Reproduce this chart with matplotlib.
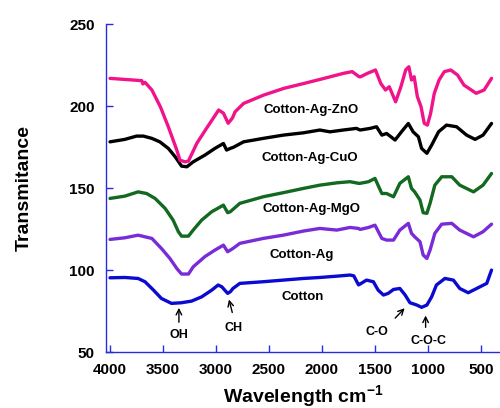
import matplotlib
matplotlib.use("Agg")
import matplotlib.pyplot as plt

plt.rcParams['font.family'] = ['Liberation Sans', 'DejaVu Sans']
plt.rcParams['font.weight'] = 'bold'
plt.rcParams['mathtext.fontset'] = 'custom'
plt.rcParams['mathtext.rm'] = 'Liberation Sans:bold'
plt.rcParams['mathtext.default'] = 'rm'

# --- spectra (wavenumber, transmittance) ---
cotton_wn = [4000, 3860, 3735, 3670, 3590, 3515, 3420, 3325, 3230, 3135, 3040, 2980,
             2945, 2890, 2865, 2840, 2775, 2555, 2365, 2175, 2020, 1860, 1735, 1700,
             1655, 1640, 1580, 1515, 1470, 1420, 1375, 1325, 1265, 1215, 1170, 1105,
             1060, 1010, 965, 920, 840, 760, 700, 620, 540, 445, 400]
cotton_t = [95.3, 95.5, 94.9, 92.9, 87.8, 82.7, 79.7, 80.1, 81.1, 83.7, 87.8, 90.9,
            89.8, 85.8, 86.8, 88.8, 91.9, 92.9, 93.9, 94.9, 95.5, 96.3, 97.0, 96.5,
            91.0, 91.5, 93.9, 92.9, 87.8, 84.8, 85.8, 88.2, 88.8, 84.8, 80.1, 78.7,
            77.3, 78.7, 83.7, 90.9, 94.9, 93.9, 88.8, 86.2, 88.8, 91.9, 100.0]

ag_wn = [4000, 3860, 3735, 3605, 3515, 3435, 3370, 3325, 3260, 3215, 3105, 3010,
         2930, 2890, 2865, 2840, 2775, 2555, 2365, 2175, 2020, 1860, 1735, 1655,
         1640, 1560, 1500, 1435, 1390, 1325, 1265, 1185, 1155, 1125, 1075, 1045,
         1010, 980, 935, 870, 775, 700, 570, 480, 400]
ag_t = [118.7, 119.7, 121.3, 119.3, 113.2, 107.1, 101.0, 97.6, 97.6, 102.0, 108.2, 112.2,
        115.2, 111.2, 112.2, 113.2, 116.3, 119.3, 121.3, 123.8, 125.4, 124.4, 126.0, 125.4,
        124.8, 126.0, 127.4, 119.3, 118.3, 118.3, 124.4, 128.5, 122.4, 120.3, 117.3, 109.2,
        107.1, 112.2, 122.4, 128.0, 128.5, 124.4, 120.3, 123.4, 128.0]

mgo_wn = [4000, 3860, 3735, 3655, 3575, 3480, 3405, 3355, 3325, 3260, 3215, 3135,
          3040, 2930, 2890, 2865, 2775, 2555, 2365, 2175, 2020, 1860, 1735, 1655,
          1640, 1560, 1500, 1435, 1390, 1325, 1265, 1185, 1155, 1125, 1075, 1045,
          1010, 980, 935, 870, 775, 700, 570, 480, 400]
mgo_t = [143.7, 145.1, 147.7, 146.7, 143.7, 137.6, 130.5, 123.4, 120.7, 120.7, 124.4, 130.5,
         135.6, 139.6, 135.0, 135.6, 140.7, 144.7, 147.2, 149.8, 151.8, 153.2, 153.9, 152.9,
         152.9, 153.9, 155.9, 146.7, 146.7, 144.7, 152.9, 156.9, 149.8, 147.7, 142.7, 135.0,
         134.6, 140.7, 151.8, 156.9, 156.9, 151.8, 147.7, 151.8, 158.9]

cuo_wn = [4000, 3860, 3750, 3685, 3605, 3530, 3450, 3385, 3325, 3275, 3215, 3105,
          3010, 2930, 2900, 2865, 2835, 2740, 2555, 2365, 2175, 2020, 1925, 1800,
          1675, 1640, 1545, 1485, 1435, 1390, 1310, 1250, 1185, 1140, 1090, 1060,
          1010, 965, 900, 825, 730, 635, 555, 480, 400]
cuo_t = [178.2, 179.7, 181.7, 181.7, 180.3, 178.2, 174.2, 169.1, 163.4, 163.0, 166.0, 170.1,
         174.2, 177.2, 173.2, 174.2, 174.9, 178.2, 180.3, 182.3, 183.7, 185.4, 184.3, 185.4,
         186.4, 185.4, 186.4, 187.4, 182.3, 183.3, 179.3, 184.3, 189.4, 184.3, 181.3, 174.2,
         171.2, 176.2, 184.3, 188.4, 187.4, 182.3, 179.7, 182.3, 189.4]

zno_wn = [4000, 3700, 3690, 3670, 3605, 3525, 3450, 3370, 3340, 3290, 3260, 3180,
          3100, 2975, 2930, 2885, 2845, 2820, 2740, 2550, 2360, 2170, 1980, 1795,
          1715, 1650, 1635, 1570, 1495, 1445, 1400, 1365, 1305, 1255, 1210, 1180,
          1155, 1130, 1100, 1065, 1035, 1005, 975, 940, 895, 845, 785, 720,
          660, 545, 470, 400]
zno_t = [216.9, 215.5, 213.5, 214.5, 209.8, 199.6, 187.4, 173.2, 167.0, 166.0, 166.5, 177.4,
         185.4, 197.6, 195.7, 189.5, 192.7, 196.5, 201.6, 206.7, 210.8, 213.8, 216.9, 220.0,
         221.0, 217.9, 217.9, 220.0, 222.0, 213.8, 209.8, 211.8, 202.6, 211.8, 222.0, 224.0,
         215.9, 217.9, 205.8, 199.6, 189.5, 188.4, 195.5, 207.8, 215.9, 221.0, 222.0, 218.9,
         212.8, 207.8, 209.8, 216.9]

series_labels = ["Cotton", "Cotton-Ag", "Cotton-Ag-MgO", "Cotton-Ag-CuO", "Cotton-Ag-ZnO"]
label_pos = [(2185, 83.3), (2190, 109.2), (2100, 137.0), (2110, 168.1), (2105, 197.6)]

band_labels = ["OH", "CH", "C-O", "C-O-C"]
band_tips = [(3350, 78.7), (2884, 83.7), (1202, 78.0), (1022, 74.0)]
band_tails = [(3350, 66.5), (2840, 72.5), (1327, 69.5), (1022, 63.4)]
band_text = [(3350, 60.4), (2837, 64.8), (1483, 62.4), (997, 56.9)]

colors = ['#0a0ad0', '#7a2bd8', '#12691f', '#000000', '#f0138a']
axis_blue = '#2a2ae0'

fig = plt.figure(figsize=(5.0, 4.08), dpi=100)
ax = fig.add_axes([0.212, 0.137, 0.788, 0.804])

curves = [(cotton_wn, cotton_t), (ag_wn, ag_t), (mgo_wn, mgo_t),
          (cuo_wn, cuo_t), (zno_wn, zno_t)]
for (wn, t), c in zip(curves, colors):
    ax.plot(wn, t, color=c, lw=2.4, solid_joinstyle='round', solid_capstyle='round')

for lab, (x, y) in zip(series_labels, label_pos):
    ax.text(x, y, lab, ha='center', va='center', fontsize=9.5, fontweight='bold')

for lab, tip, tail, pos in zip(band_labels, band_tips, band_tails, band_text):
    ax.annotate('', xy=tip, xytext=tail,
                arrowprops=dict(arrowstyle='->', color='black', lw=1.0))
    ax.text(pos[0], pos[1], lab, ha='center', va='center', fontsize=9, fontweight='bold')

ax.set_xlim(4038, 320)
ax.set_ylim(50, 250)
ax.set_xticks([4000, 3500, 3000, 2500, 2000, 1500, 1000, 500])
ax.set_yticks([50, 100, 150, 200, 250])

for side in ['top', 'right']:
    ax.spines[side].set_visible(False)
for side in ['left', 'bottom']:
    ax.spines[side].set_color(axis_blue)
    ax.spines[side].set_linewidth(1.0)

ax.tick_params(direction='in', length=5, width=1.0, color=axis_blue,
               labelsize=11, pad=8)
for lbl in ax.get_xticklabels() + ax.get_yticklabels():
    lbl.set_fontweight('bold')

ax.set_ylabel('Transmitance', fontsize=14, fontweight='bold')
ax.yaxis.set_label_coords(-0.185, 0.5)
ax.set_xlabel('Wavelength cm$^{-1}$', fontsize=14, fontweight='bold')
ax.xaxis.set_label_coords(0.5, -0.093)

fig.savefig('out.png', dpi=100)
